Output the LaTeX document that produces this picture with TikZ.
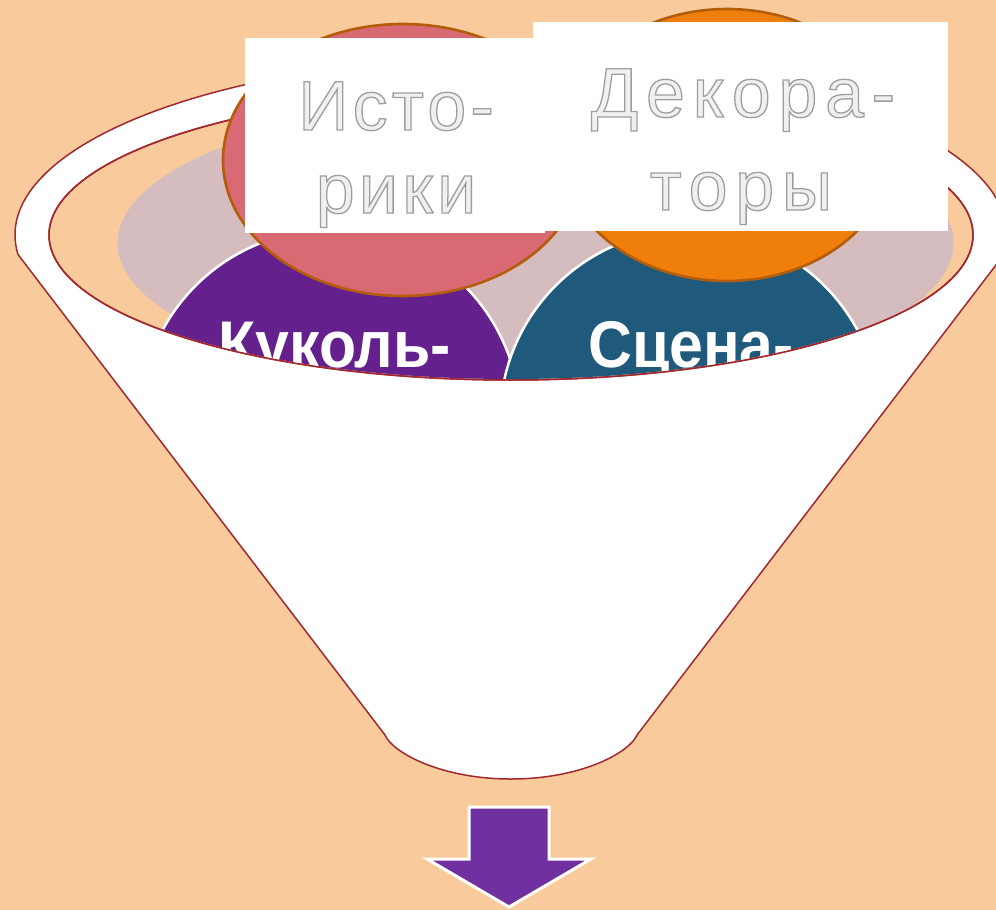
\documentclass[tikz,border=0pt]{standalone}
\usepackage{fontspec}
\setmainfont{Liberation Sans}
\newfontfamily\embA[LetterSpace=6]{Liberation Sans}
\newfontfamily\embB[LetterSpace=11]{Liberation Sans}
\definecolor{peach}{HTML}{F9CB9C}
\definecolor{rimred}{HTML}{A3282E}
\definecolor{mauve}{HTML}{D5BCBF}
\definecolor{purpc}{HTML}{64218E}
\definecolor{tealc}{HTML}{1F5A7D}
\definecolor{pinkc}{HTML}{D96A74}
\definecolor{orangec}{HTML}{EF7E0A}
\definecolor{brownb}{HTML}{B35C0A}
\definecolor{arrowp}{HTML}{7030A0}
\definecolor{emblight}{HTML}{F0F0F0}
\tikzset{
  rim/.style={draw=rimred, line width=1.5pt},
  circ/.style={draw=white, line width=2.5pt},
  egg/.style={draw=brownb, line width=2.6pt},
  whitebox/.style={fill=white, draw=none},
  embtext/.style={anchor=base, inner sep=0pt, text=emblight},
  boldlabel/.style={anchor=base, inner sep=0pt, text=white, font=\fontsize{66}{66}\selectfont\bfseries},
  bigarrow/.style={fill=arrowp, draw=white, line width=3pt, line join=miter}
}
\newcommand{\outlined}[1]{\special{pdf:literal direct 2 Tr 1.3 w 0.62 0.62 0.62 RG}#1\special{pdf:literal direct 0 Tr}}
\begin{document}
\begin{tikzpicture}[x=1pt,y=-1pt]
\useasboundingbox (0,0) rectangle (996,910);
\fill[peach] (0,0) rectangle (996,910);
% funnel body
\path[rim, fill=white] (511,235) ++(173.7:496 and 178)
  arc[start angle=173.7, end angle=366.3, x radius=496, y radius=178]
  -- (637,735) .. controls (630,752) and (582,779) .. (511,779)
  .. controls (440,779) and (392,752) .. (385,735) -- cycle;
% inner opening
\path[rim, fill=peach] (511,235) ellipse [x radius=462, y radius=145];
\begin{scope}
  \clip (511,235) ellipse [x radius=461, y radius=144];
  \fill[mauve] (535.5,243) ellipse [x radius=418, y radius=145];
  \path[circ, fill=purpc] (330,420) circle [radius=190];
  \path[circ, fill=tealc] (690,420) circle [radius=190];
  \node[boldlabel] (kuk) at (335,367) {\scalebox{0.92}[1]{Куколь-}};
  \node[boldlabel] (scen) at (691,367) {\scalebox{0.92}[1]{Сцена-}};
\end{scope}
\draw[rim] (511,235) ellipse [x radius=462, y radius=145];
% eggs
\path[egg, fill=pinkc] (403,160) ellipse [x radius=180, y radius=136];
\path[egg, fill=orangec] (727,145) ellipse [x radius=168, y radius=136];
% white label boxes
\fill[whitebox] (245,38) rectangle (545,233);
\fill[whitebox] (533,22) rectangle (948,231);
\node[embtext, font=\embA\fontsize{70}{70}\selectfont] (istoA) at (396,130) {\outlined{Исто-}};
\node[embtext, font=\embA\fontsize{70}{70}\selectfont] (istoB) at (396,213) {\outlined{рики}};
\node[embtext, font=\embB\fontsize{70}{70}\selectfont] (dekA) at (743,117) {\outlined{Декора-}};
\node[embtext, font=\embB\fontsize{70}{70}\selectfont] (dekB) at (741,210) {\outlined{торы}};
% arrow
\path[bigarrow] (469,807) -- (549,807) -- (549,859) -- (591,859) -- (509,907)
  -- (427,859) -- (469,859) -- cycle;
\end{tikzpicture}
\end{document}
